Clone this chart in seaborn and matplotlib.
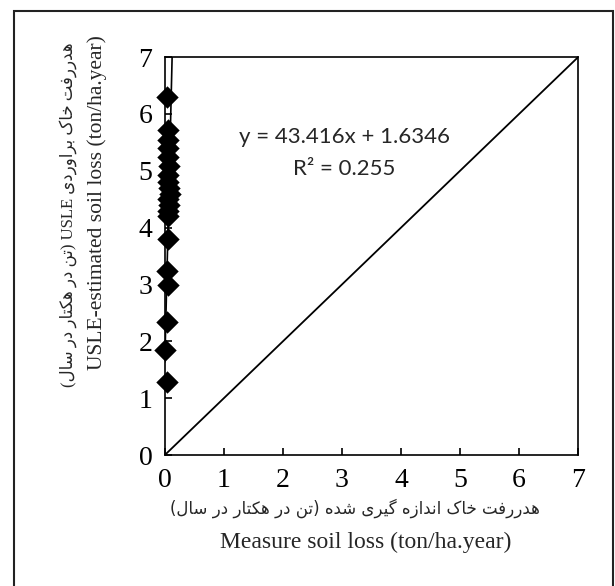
import matplotlib
matplotlib.use("Agg")
import matplotlib.pyplot as plt
from matplotlib.patches import Rectangle
import numpy as np
import pandas as pd
import seaborn as sns

# Measured vs USLE-estimated soil loss (ton/ha.year)
measured = [0.03, 0.05, 0.06, 0.05, 0.06, 0.07, 0.05, 0.06, 0.07, 0.08,
            0.06, 0.07, 0.06, 0.05, 0.05, 0.04, 0.05, 0.03, 0.00, 0.03]
estimated = [6.30, 5.72, 5.55, 5.40, 5.24, 5.08, 4.92, 4.80, 4.70, 4.60,
             4.50, 4.40, 4.30, 4.20, 3.80, 3.24, 2.99, 2.34, 1.85, 1.28]

# Linear fit reported on the chart
slope = 43.416
intercept = 1.6346
r_squared = 0.255

axis_ticks = [0, 1, 2, 3, 4, 5, 6, 7]

xlabel_fa = "هدررفت خاک اندازه گیری شده (تن در هکتار در سال)"
xlabel_en = "Measure soil loss (ton/ha.year)"
ylabel_fa = "هدررفت خاک براوردی USLE (تن در هکتار در سال)"
ylabel_en = "USLE-estimated soil loss (ton/ha.year)"

# --- minimal Persian shaping (contextual forms + right-to-left order) ---
FORMS = {
    "ا": ("\uFE8D", "\uFE8E", None, None),
    "ب": ("\uFE8F", "\uFE90", "\uFE91", "\uFE92"),
    "ت": ("\uFE95", "\uFE96", "\uFE97", "\uFE98"),
    "خ": ("\uFEA5", "\uFEA6", "\uFEA7", "\uFEA8"),
    "د": ("\uFEA9", "\uFEAA", None, None),
    "ر": ("\uFEAD", "\uFEAE", None, None),
    "ز": ("\uFEAF", "\uFEB0", None, None),
    "س": ("\uFEB1", "\uFEB2", "\uFEB3", "\uFEB4"),
    "ش": ("\uFEB5", "\uFEB6", "\uFEB7", "\uFEB8"),
    "ف": ("\uFED1", "\uFED2", "\uFED3", "\uFED4"),
    "ل": ("\uFEDD", "\uFEDE", "\uFEDF", "\uFEE0"),
    "ن": ("\uFEE5", "\uFEE6", "\uFEE7", "\uFEE8"),
    "ه": ("\uFEE9", "\uFEEA", "\uFEEB", "\uFEEC"),
    "و": ("\uFEED", "\uFEEE", None, None),
    "ک": ("\uFB8E", "\uFB8F", "\uFB90", "\uFB91"),
    "گ": ("\uFB92", "\uFB93", "\uFB94", "\uFB95"),
    "ی": ("\uFBFC", "\uFBFD", "\uFBFE", "\uFBFF"),
}


def joins_forward(ch):
    return ch in FORMS and FORMS[ch][2] is not None


def shape_rtl(text):
    out = []
    n = len(text)
    for i, ch in enumerate(text):
        if ch not in FORMS:
            out.append(ch)
            continue
        prev_joins = i > 0 and joins_forward(text[i - 1])
        next_joins = i < n - 1 and text[i + 1] in FORMS and joins_forward(ch)
        iso, fin, ini, med = FORMS[ch]
        if prev_joins and next_joins:
            out.append(med)
        elif prev_joins:
            out.append(fin)
        elif next_joins:
            out.append(ini)
        else:
            out.append(iso)
    visual = "".join(out)[::-1]
    visual = visual.translate(str.maketrans("()", ")("))
    # keep Latin runs left-to-right
    result, run = [], []
    for ch in visual:
        if ch.isascii() and ch.isalnum():
            run.append(ch)
        else:
            if run:
                result.append("".join(run[::-1]))
                run = []
            result.append(ch)
    if run:
        result.append("".join(run[::-1]))
    return "".join(result)


sns.set_theme(style="white")
plt.rcParams["font.family"] = ["Liberation Serif", "DejaVu Sans"]

fig = plt.figure(figsize=(6.15, 5.86), dpi=100)
ax = fig.add_axes([0.268, 0.2235, 0.672, 0.679])

df = pd.DataFrame({"measured": measured, "estimated": estimated})

# 1:1 reference line
sns.lineplot(x=[axis_ticks[0], axis_ticks[-1]], y=[axis_ticks[0], axis_ticks[-1]],
             color="black", linewidth=1.3, ax=ax)

# fitted trend line across the measured range, clipped to the axis
x_fit = np.array([0.0, (axis_ticks[-1] - intercept) / slope])
sns.lineplot(x=x_fit, y=slope * x_fit + intercept, color="black",
             linewidth=1.2, ax=ax)

sns.scatterplot(data=df, x="measured", y="estimated", marker="D", s=130,
                color="black", linewidth=0, ax=ax, zorder=5, clip_on=False)

ax.set_xlim(0, 7)
ax.set_ylim(0, 7)
ax.set_xticks(axis_ticks)
ax.set_yticks(axis_ticks)
ax.set_xticklabels([str(t) for t in axis_ticks])
ax.set_yticklabels([str(t) for t in axis_ticks])
ax.tick_params(axis="both", direction="in", length=5, width=1.2,
               labelsize=20, colors="black", pad=9)
ax.tick_params(axis="x", top=False, bottom=True)
ax.tick_params(axis="y", left=True, right=False)
for sp in ax.spines.values():
    sp.set_visible(True)
    sp.set_color("black")
    sp.set_linewidth(1.2)
ax.set_xlabel("")
ax.set_ylabel("")

ax.text(0.435, 0.799, f"y = {slope}x + {intercept}", transform=ax.transAxes,
        ha="center", va="center", fontsize=16, family=["Lato", "DejaVu Sans"])
ax.text(0.435, 0.719, f"R² = {r_squared}", transform=ax.transAxes,
        ha="center", va="center", fontsize=16, family=["Lato", "DejaVu Sans"])

# axis titles (Persian line + English line)
fig.text(0.577, 1 - 508 / 586, shape_rtl(xlabel_fa), ha="center", va="center",
         fontsize=12, family=["DejaVu Sans"])
fig.text(366 / 615, 1 - 542 / 586, xlabel_en, ha="center", va="center",
         fontsize=17)
fig.text(68 / 615, 1 - 215 / 586, shape_rtl(ylabel_fa), ha="center",
         va="center", rotation=90, fontsize=12,
         family=["Liberation Serif", "DejaVu Sans"])
fig.text(97 / 615, 1 - 203 / 586, ylabel_en, ha="center", va="center",
         rotation=90, fontsize=15.5)

# outer frame around the figure
fig.patches.append(Rectangle((14 / 615, -0.02), 599 / 615, 0.02 + 1 - 10.5 / 586,
                             transform=fig.transFigure, fill=False,
                             edgecolor="#222222", linewidth=1.5))

fig.savefig("out.png", dpi=100, facecolor="white")
